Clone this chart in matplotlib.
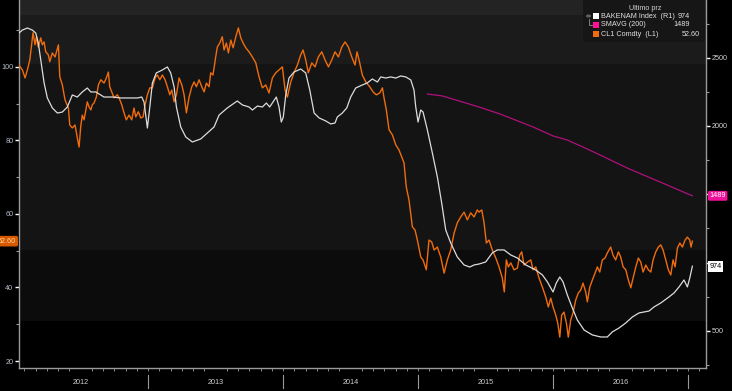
import matplotlib
matplotlib.use("Agg")
import matplotlib.pyplot as plt
import matplotlib.transforms as mtransforms
from matplotlib.patches import Rectangle, Circle
from matplotlib.lines import Line2D

plt.rcParams['font.family'] = ['Liberation Sans', 'DejaVu Sans']

# CL1 Comdty, left axis (decimal year, price)
cl1_t = [2012.044, 2012.069, 2012.089, 2012.106, 2012.124, 2012.139, 2012.148, 2012.163, 2012.173, 2012.187,
         2012.205, 2012.217, 2012.230, 2012.242, 2012.261, 2012.272, 2012.291, 2012.311, 2012.336, 2012.346,
         2012.365, 2012.385, 2012.410, 2012.420, 2012.439, 2012.459, 2012.476, 2012.489, 2012.501, 2012.513,
         2012.526, 2012.539, 2012.550, 2012.563, 2012.576, 2012.587, 2012.600, 2012.617, 2012.632, 2012.650,
         2012.674, 2012.691, 2012.706, 2012.716, 2012.731, 2012.748, 2012.773, 2012.785, 2012.805, 2012.822,
         2012.839, 2012.859, 2012.879, 2012.896, 2012.909, 2012.928, 2012.946, 2012.963, 2012.978, 2012.995,
         2013.013, 2013.032, 2013.052, 2013.069, 2013.087, 2013.106, 2013.126, 2013.143, 2013.161, 2013.176,
         2013.193, 2013.210, 2013.230, 2013.250, 2013.267, 2013.284, 2013.304, 2013.324, 2013.341, 2013.358,
         2013.378, 2013.398, 2013.415, 2013.432, 2013.452, 2013.464, 2013.481, 2013.501, 2013.513, 2013.531,
         2013.550, 2013.563, 2013.580, 2013.595, 2013.613, 2013.630, 2013.650, 2013.669, 2013.687, 2013.704,
         2013.724, 2013.748, 2013.773, 2013.798, 2013.822, 2013.847, 2013.872, 2013.896, 2013.921, 2013.946,
         2013.970, 2013.995, 2014.015, 2014.032, 2014.057, 2014.081, 2014.106, 2014.131, 2014.148, 2014.168,
         2014.187, 2014.213, 2014.237, 2014.261, 2014.287, 2014.311, 2014.336, 2014.361, 2014.385, 2014.410,
         2014.435, 2014.459, 2014.484, 2014.509, 2014.533, 2014.548, 2014.568, 2014.587, 2014.613, 2014.642,
         2014.667, 2014.691, 2014.716, 2014.736, 2014.748, 2014.765, 2014.785, 2014.810, 2014.835, 2014.859,
         2014.879, 2014.896, 2014.913, 2014.933, 2014.958, 2014.978, 2014.995, 2015.020, 2015.037, 2015.061,
         2015.081, 2015.101, 2015.119, 2015.143, 2015.168, 2015.193, 2015.217, 2015.242, 2015.267, 2015.291,
         2015.316, 2015.341, 2015.365, 2015.390, 2015.415, 2015.439, 2015.452, 2015.472, 2015.489, 2015.506,
         2015.526, 2015.550, 2015.576, 2015.600, 2015.624, 2015.639, 2015.654, 2015.669, 2015.687, 2015.711,
         2015.736, 2015.753, 2015.768, 2015.785, 2015.810, 2015.835, 2015.852, 2015.872, 2015.896, 2015.921,
         2015.946, 2015.965, 2015.983, 2016.000, 2016.020, 2016.035, 2016.050, 2016.064, 2016.081, 2016.099,
         2016.113, 2016.131, 2016.148, 2016.168, 2016.187, 2016.205, 2016.222, 2016.242, 2016.254, 2016.272,
         2016.291, 2016.311, 2016.328, 2016.346, 2016.365, 2016.385, 2016.402, 2016.427, 2016.444, 2016.464,
         2016.484, 2016.501, 2016.519, 2016.539, 2016.558, 2016.576, 2016.593, 2016.613, 2016.632, 2016.650,
         2016.667, 2016.687, 2016.706, 2016.724, 2016.741, 2016.761, 2016.780, 2016.798, 2016.815, 2016.835,
         2016.854, 2016.872, 2016.889, 2016.904, 2016.921, 2016.939, 2016.958, 2016.978, 2016.995, 2017.013,
         2017.022, 2017.032]
cl1_v = [100.5, 99.2, 97.0, 99.2, 101.9, 106.5, 109.3, 106.0, 108.2, 105.4,
         107.9, 106.0, 106.8, 104.1, 103.3, 101.4, 103.8, 102.7, 106.0, 97.3,
         95.1, 91.0, 88.8, 84.2, 83.4, 84.2, 80.7, 78.2, 83.7, 86.9,
         85.6, 88.3, 90.5, 89.1, 88.3, 89.7, 90.2, 91.8, 95.1, 96.5,
         95.6, 97.0, 98.6, 94.6, 93.2, 91.6, 92.4, 91.6, 89.7, 87.5,
         85.6, 86.9, 85.6, 88.8, 86.4, 87.8, 86.1, 86.4, 89.7, 92.4,
         94.3, 94.3, 97.0, 97.8, 96.5, 97.8, 96.5, 94.6, 92.4, 93.7,
         90.5, 92.4, 97.0, 95.1, 92.4, 87.5, 91.8, 94.6, 95.9, 94.6,
         96.5, 94.6, 93.2, 95.6, 94.6, 98.4, 97.8, 102.7, 105.4, 106.5,
         108.2, 104.6, 106.5, 103.8, 107.3, 105.2, 108.2, 110.6, 107.9, 106.5,
         105.2, 104.1, 102.7, 101.1, 97.3, 94.3, 95.1, 92.9, 97.0, 98.4,
         99.2, 100.0, 93.7, 91.8, 95.9, 98.4, 100.5, 103.3, 104.6, 101.9,
         98.4, 101.1, 100.0, 102.7, 104.1, 101.9, 100.0, 101.9, 104.1, 102.7,
         105.4, 106.8, 105.4, 102.7, 100.5, 104.1, 101.1, 97.8, 95.9, 94.6,
         93.2, 92.4, 92.9, 94.3, 91.6, 88.3, 82.9, 81.5, 78.8, 77.4,
         75.5, 73.9, 67.3, 63.8, 56.5, 55.6, 52.9, 48.3, 47.5, 44.8,
         52.9, 52.4, 50.2, 51.0, 48.3, 43.9, 47.5, 50.2, 54.8, 57.6,
         59.2, 60.5, 58.4, 60.3, 59.2, 61.1, 60.5, 61.1, 57.6, 52.1,
         52.9, 50.2, 48.0, 45.6, 42.6, 38.8, 47.5, 45.6, 46.7, 44.8,
         45.3, 48.8, 49.7, 46.1, 46.9, 47.5, 44.8, 45.6, 42.6, 40.1,
         37.4, 34.7, 37.1, 34.7, 32.5, 30.3, 26.5, 32.5, 33.3, 30.3,
         26.5, 31.2, 33.1, 36.6, 38.5, 39.3, 41.2, 38.8, 36.1, 40.1,
         42.0, 43.9, 45.6, 44.2, 47.5, 48.0, 49.4, 51.0, 48.8, 47.5,
         49.7, 48.3, 45.6, 44.8, 42.0, 39.9, 42.6, 45.6, 48.0, 46.9,
         44.2, 46.1, 44.8, 44.2, 47.5, 49.7, 51.0, 51.6, 50.2, 47.5,
         44.8, 43.4, 47.5, 45.6, 50.7, 52.1, 51.0, 52.9, 53.7, 52.9,
         51.0, 52.60]

# BAKENAM Index, right axis
rig_t = [2012.044, 2012.069, 2012.106, 2012.143, 2012.168, 2012.187, 2012.205, 2012.230, 2012.254, 2012.291,
         2012.328, 2012.365, 2012.402, 2012.439, 2012.476, 2012.513, 2012.550, 2012.576, 2012.613, 2012.674,
         2012.736, 2012.798, 2012.859, 2012.921, 2012.953, 2012.970, 2012.995, 2013.013, 2013.032, 2013.061,
         2013.106, 2013.143, 2013.168, 2013.193, 2013.210, 2013.242, 2013.279, 2013.328, 2013.390, 2013.439,
         2013.489, 2013.526, 2013.587, 2013.661, 2013.699, 2013.748, 2013.773, 2013.810, 2013.847, 2013.876,
         2013.901, 2013.950, 2013.970, 2013.987, 2014.002, 2014.020, 2014.044, 2014.081, 2014.131, 2014.168,
         2014.198, 2014.230, 2014.267, 2014.316, 2014.353, 2014.385, 2014.402, 2014.439, 2014.472, 2014.501,
         2014.538, 2014.587, 2014.624, 2014.661, 2014.699, 2014.724, 2014.761, 2014.798, 2014.835, 2014.872,
         2014.909, 2014.946, 2014.970, 2014.983, 2015.000, 2015.020, 2015.037, 2015.069, 2015.106, 2015.143,
         2015.175, 2015.205, 2015.242, 2015.291, 2015.341, 2015.383, 2015.415, 2015.452, 2015.501, 2015.550,
         2015.587, 2015.637, 2015.687, 2015.736, 2015.798, 2015.872, 2015.921, 2015.958, 2016.000, 2016.024,
         2016.050, 2016.074, 2016.106, 2016.143, 2016.180, 2016.230, 2016.291, 2016.353, 2016.402, 2016.439,
         2016.489, 2016.539, 2016.587, 2016.637, 2016.711, 2016.748, 2016.798, 2016.859, 2016.896, 2016.933,
         2016.970, 2016.995, 2017.013, 2017.032]
rig_v = [2680, 2702, 2717, 2702, 2680, 2607, 2483, 2315, 2205, 2132,
         2095, 2102, 2139, 2227, 2212, 2249, 2278, 2249, 2249, 2212,
         2212, 2205, 2205, 2205, 2212, 2176, 1985, 2139, 2315, 2388,
         2410, 2432, 2388, 2285, 2139, 1993, 1920, 1883, 1905, 1949,
         1993, 2080, 2132, 2183, 2154, 2139, 2117, 2146, 2139, 2168,
         2139, 2212, 2139, 2029, 2066, 2227, 2351, 2395, 2417, 2388,
         2263, 2095, 2059, 2037, 2015, 2022, 2066, 2095, 2132, 2212,
         2278, 2300, 2315, 2344, 2322, 2359, 2351, 2359, 2351, 2366,
         2359, 2337, 2263, 2139, 2029, 2117, 2102, 1971, 1802, 1627,
         1437, 1239, 1144, 1041, 983, 968, 983, 990, 1005, 1071,
         1093, 1093, 1056, 1034, 983, 946, 910, 859, 785, 851,
         895, 859, 763, 668, 580, 507, 471, 456, 456, 493,
         522, 559, 602, 632, 646, 676, 705, 749, 778, 822,
         873, 822, 888, 974]

# SMAVG (200) of BAKENAM, right axis
sma_t = [2015.069, 2015.180, 2015.328, 2015.452, 2015.607, 2015.852, 2016.000, 2016.104, 2016.222, 2016.348,
         2016.548, 2016.793, 2017.032]
sma_v = [2234, 2220, 2176, 2139, 2088, 1993, 1927, 1898, 1846, 1788,
         1693, 1590, 1489]

years = [2012, 2013, 2014, 2015, 2016]
left_ticks = [20, 40, 60, 80, 100]
right_ticks = [500, 1000, 1500, 2000, 2500]
right_labels = ['500', '', '', '2000', '2500']

W, H = 732, 391
ORANGE = '#f06c0c'
WHITE = '#dcdcdc'
MAGENTA = '#b0107c'
GREY = '#9a9a9a'
FS = 5.2


def px(x, y):
    return (x / W, 1 - y / H)


fig = plt.figure(figsize=(W / 100, H / 100), dpi=100, facecolor='black')
ax = fig.add_axes([19 / W, 1 - 368 / H, (706 - 19) / W, 368 / H])
ax.set_facecolor('black')
ax2 = ax.twinx()
ax2.patch.set_visible(False)

ax.set_xlim(2012.044, 2017.133)
ax.set_ylim(18.1, 118.2)
ax2.set_ylim(229, 2922)

# shaded bands
for lo, hi, c in [(114.1, 120, '#232323'), (100.8, 114.1, '#1b1b1b'),
                  (50.2, 100.8, '#141414'), (30.9, 50.2, '#0c0c0c')]:
    ax.axhspan(lo, hi, color=c, lw=0, zorder=0)

ax.plot(cl1_t, cl1_v, color=ORANGE, lw=1.0, zorder=3)
ax2.plot(rig_t, rig_v, color=WHITE, lw=0.9, zorder=3)
ax2.plot(sma_t, sma_v, color=MAGENTA, lw=0.9, zorder=3)

# spines
for a in (ax, ax2):
    for s in a.spines.values():
        s.set_visible(False)
ax.spines['left'].set_visible(True)
ax.spines['bottom'].set_visible(True)
ax2.spines['right'].set_visible(True)
for s in (ax.spines['left'], ax.spines['bottom'], ax2.spines['right']):
    s.set_color(GREY)
    s.set_linewidth(1.0)

# left axis ticks
ax.set_yticks(left_ticks)
ax.set_yticks([30, 50, 70, 90, 110], minor=True)
ax.tick_params(axis='y', which='major', colors='white', length=3, width=1,
               labelsize=FS, labelcolor='#b4bcc8', pad=1)
ax.tick_params(axis='y', which='minor', colors=GREY, length=2, width=0.8)

# right axis ticks
ax2.set_yticks(right_ticks)
ax2.set_yticklabels(right_labels)
ax2.set_yticks([250, 750, 1250, 1750, 2250, 2750], minor=True)
ax2.tick_params(axis='y', which='major', colors='white', length=3, width=1,
                labelsize=FS, labelcolor='#d0d0d0', pad=1)
ax2.tick_params(axis='y', which='minor', colors=GREY, length=2, width=0.8)

# x axis: monthly ticks, year labels between separators
months = [2012 + k / 12 for k in range(1, 62)]
ax.set_xticks(months, minor=True)
ax.set_xticks([y + 0.5 for y in years])
ax.set_xticklabels([str(y) for y in years])
ax.tick_params(axis='x', which='major', length=0, labelsize=FS, labelcolor='#d0d0d0', pad=8)
ax.tick_params(axis='x', which='minor', colors=GREY, length=2, width=0.6)
ax2.tick_params(axis='x', which='both', length=0)

trans = mtransforms.blended_transform_factory(ax.transData, ax.transAxes)
for y in years:
    ax.plot([y + 1, y + 1], [-0.02, -0.055], transform=trans, color=GREY, lw=0.8, clip_on=False)

# value tags
ax.annotate(f'{cl1_v[-1]:.2f}', xy=(-0.004, cl1_v[-1]),
            xycoords=mtransforms.blended_transform_factory(ax.transAxes, ax.transData),
            ha='right', va='center', fontsize=FS, color='#ffd2a0',
            bbox=dict(boxstyle='round,pad=0.25', fc='#d85a00', ec='none'), annotation_clip=False)
tr2 = mtransforms.blended_transform_factory(ax2.transAxes, ax2.transData)
ax2.annotate(f'{sma_v[-1]}', xy=(1.005, sma_v[-1]), xycoords=tr2, ha='left', va='center',
             fontsize=FS, color='white',
             bbox=dict(boxstyle='round,pad=0.2', fc='#f0109a', ec='none'), annotation_clip=False)
ax2.annotate(f'{rig_v[-1]}', xy=(1.005, rig_v[-1]), xycoords=tr2, ha='left', va='center',
             fontsize=FS, color='black',
             bbox=dict(boxstyle='square,pad=0.25', fc='white', ec='none'), annotation_clip=False)

# legend box
fig.patches.append(Rectangle(px(583, 42), 122 / W, 42 / H, transform=fig.transFigure,
                             fc='#161616', ec='none', zorder=5))
fig.text(*px(645, 8), 'Ultimo prz', ha='center', va='center', fontsize=FS, color='#d0d0d0', zorder=6)
rows = [('BAKENAM Index  (R1)', f'{rig_v[-1]}', 'white', 690),
        ('SMAVG (200)', f'{sma_v[-1]}', '#ff1099', 690),
        ('CL1 Comdty  (L1)', f'{cl1_v[-1]:.2f}', ORANGE, 700)]
for i, (lab, val, c, xr) in enumerate(rows):
    yy = 16 + 9 * i
    fig.patches.append(Rectangle(px(593, yy + 3), 6 / W, 6 / H, transform=fig.transFigure,
                                 fc=c, ec='none', zorder=6))
    fig.text(*px(601, yy), lab, ha='left', va='center', fontsize=FS, color='#e0e0e0', zorder=6)
    fig.text(*px(xr, yy), val, ha='right', va='center', fontsize=FS, color='#e0e0e0', zorder=6)
fig.patches.append(Circle(px(588.5, 16), 1.8 / W, transform=fig.transFigure,
                          fc='none', ec='#909090', lw=0.6, zorder=6))
fig.lines.append(Line2D([588.5 / W, 588.5 / W, 592 / W], [1 - 19 / H, 1 - 25 / H, 1 - 25 / H],
                        transform=fig.transFigure, color='#909090', lw=0.6, zorder=6))

fig.savefig('out.png', dpi=100, facecolor='black')
